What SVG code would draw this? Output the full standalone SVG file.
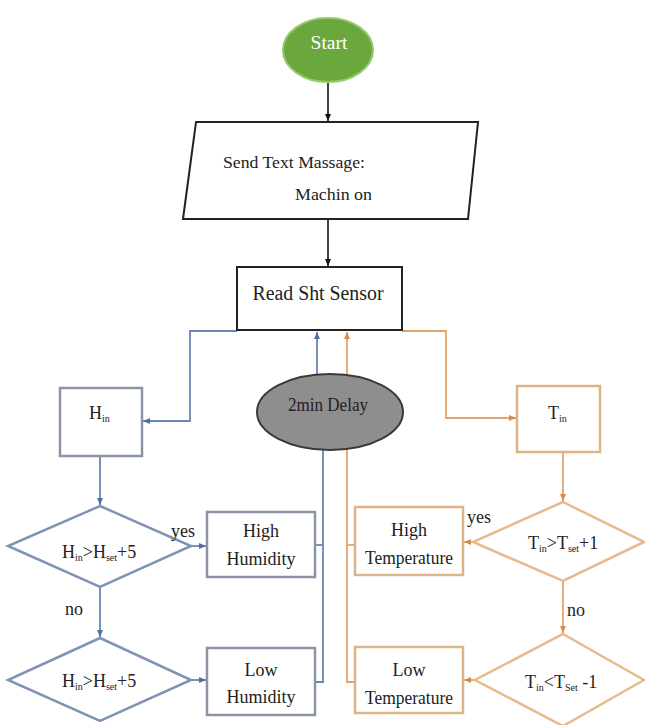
<svg xmlns="http://www.w3.org/2000/svg" width="645" height="725" viewBox="0 0 645 725">
<defs>
<style>
text{font-family:"Liberation Serif","Times New Roman",serif;fill:#222;}
.t18{font-size:18px;}
.t17{font-size:17.5px;}
.sub{font-size:10px;}
.c{text-anchor:middle;}
.blk{fill:none;stroke:#111;stroke-width:1.6;}
.hbox{fill:#fff;stroke:#8a94a4;stroke-width:2.5;}
.tbox{fill:#fff;stroke:#dcb488;stroke-width:2.5;}
.hdia{fill:#fff;stroke:#7f93b5;stroke-width:2.5;}
.tdia{fill:#fff;stroke:#e6ba8c;stroke-width:2.5;}
.bl{fill:none;stroke:#6a86b4;stroke-width:1.8;}
.or{fill:none;stroke:#e4a36a;stroke-width:1.8;}
</style>
<marker id="ak" markerWidth="8" markerHeight="8" refX="7" refY="4" orient="auto" markerUnits="userSpaceOnUse"><path d="M0,1 L7,4 L0,7 z" fill="#111"/></marker>
<marker id="ab" markerWidth="8" markerHeight="8" refX="7" refY="4" orient="auto" markerUnits="userSpaceOnUse"><path d="M0,1 L7,4 L0,7 z" fill="#4f6fa5"/></marker>
<marker id="ao" markerWidth="8" markerHeight="8" refX="7" refY="4" orient="auto" markerUnits="userSpaceOnUse"><path d="M0,1 L7,4 L0,7 z" fill="#d98a4c"/></marker>
</defs>

<g id="connectors">
<line class="blk" x1="328" y1="82" x2="328" y2="121" marker-end="url(#ak)"/>
<line class="blk" x1="328" y1="219" x2="328" y2="266" marker-end="url(#ak)"/>
<polyline class="bl" points="237,331 190,331 190,421 143,421" marker-end="url(#ab)"/>
<line class="bl" x1="100" y1="456" x2="100" y2="505" marker-end="url(#ab)"/>
<line class="bl" x1="191" y1="546" x2="206" y2="546" marker-end="url(#ab)"/>
<line class="bl" x1="100" y1="587" x2="100" y2="637" marker-end="url(#ab)"/>
<line class="bl" x1="191" y1="680" x2="206" y2="680" marker-end="url(#ab)"/>
<polyline class="bl" points="315,545 323,545"/>
<polyline class="bl" points="315,682 323,682 323,440"/>
<line class="bl" x1="317" y1="380" x2="317" y2="332" marker-end="url(#ab)"/>
<polyline class="or" points="402,331 446,331 446,418 516,418" marker-end="url(#ao)"/>
<line class="or" x1="563" y1="452" x2="563" y2="501" marker-end="url(#ao)"/>
<line class="or" x1="473" y1="542" x2="464" y2="542" marker-end="url(#ao)"/>
<line class="or" x1="563" y1="581" x2="563" y2="633" marker-end="url(#ao)"/>
<line class="or" x1="475" y1="680" x2="464" y2="680" marker-end="url(#ao)"/>
<polyline class="or" points="355,545 347,545"/>
<polyline class="or" points="355,682 347,682 347,332" marker-end="url(#ao)"/>
</g>

<g id="start">
<ellipse cx="328" cy="50" rx="45" ry="32" fill="#6aa83e" stroke="#93c86e" stroke-width="2"/>
<text class="t18 c" x="329" y="49" style="fill:#fff" textLength="37" lengthAdjust="spacingAndGlyphs">Start</text>
</g>

<g id="send">
<polygon points="196,122 478,122 468,219 183,219" fill="#fff" stroke="#222" stroke-width="2"/>
<text class="t17" x="223" y="168" textLength="142" lengthAdjust="spacingAndGlyphs">Send Text Massage:</text>
<text class="t17" x="295" y="200" textLength="77" lengthAdjust="spacingAndGlyphs">Machin on</text>
</g>

<g id="read">
<rect x="237" y="267" width="165" height="63" fill="#fff" stroke="#222" stroke-width="2"/>
<text class="c" x="318" y="300" style="font-size:20px" textLength="131" lengthAdjust="spacingAndGlyphs">Read Sht Sensor</text>
</g>

<g id="delay">
<ellipse cx="330" cy="412" rx="73" ry="38" fill="#8e8e8e" stroke="#3a3a3a" stroke-width="2"/>
<text class="t18 c" x="328" y="411" textLength="80" lengthAdjust="spacingAndGlyphs">2min Delay</text>
</g>

<g id="hin">
<rect x="60" y="388" width="82" height="68" class="hbox"/>
<text class="t18" x="89" y="419">H<tspan class="sub" dy="3">in</tspan></text>
</g>

<g id="tin">
<rect x="517" y="386" width="83" height="66" class="tbox"/>
<text class="t18" x="548" y="419">T<tspan class="sub" dy="3">in</tspan></text>
</g>

<g id="hcheck1">
<polygon points="100,506 191,546 100,587 8,546" class="hdia"/>
<text class="t18" x="62" y="558">H<tspan class="sub" dy="3">in</tspan><tspan dy="-3">&gt;H</tspan><tspan class="sub" dy="3">set</tspan><tspan dy="-3">+5</tspan></text>
</g>

<g id="hcheck2">
<polygon points="100,638 191,680 100,721 8,680" class="hdia"/>
<text class="t18" x="62" y="687">H<tspan class="sub" dy="3">in</tspan><tspan dy="-3">&gt;H</tspan><tspan class="sub" dy="3">set</tspan><tspan dy="-3">+5</tspan></text>
</g>

<g id="highhum">
<rect x="207" y="512" width="108" height="65" class="hbox"/>
<text class="t18 c" x="261" y="537">High</text>
<text class="t18 c" x="261" y="565">Humidity</text>
</g>

<g id="lowhum">
<rect x="207" y="648" width="108" height="67" class="hbox"/>
<text class="t18 c" x="261" y="676">Low</text>
<text class="t18 c" x="261" y="703">Humidity</text>
</g>

<g id="tcheck1">
<polygon points="563,502 644,542 563,581 473,542" class="tdia"/>
<text class="t18" x="528" y="549">T<tspan class="sub" dy="3">in</tspan><tspan dy="-3">&gt;T</tspan><tspan class="sub" dy="3">set</tspan><tspan dy="-3">+1</tspan></text>
</g>

<g id="tcheck2">
<polygon points="563,634 644,680 563,726 475,680" class="tdia"/>
<text class="t18" x="525" y="688">T<tspan class="sub" dy="3">in</tspan><tspan dy="-3">&lt;T</tspan><tspan class="sub" dy="3">Set</tspan><tspan dy="-3"> -1</tspan></text>
</g>

<g id="hightemp">
<rect x="355" y="507" width="108" height="68" class="tbox"/>
<text class="t18 c" x="409" y="536">High</text>
<text class="t18 c" x="409" y="564" textLength="88" lengthAdjust="spacingAndGlyphs">Temperature</text>
</g>

<g id="lowtemp">
<rect x="355" y="647" width="108" height="66" class="tbox"/>
<text class="t18 c" x="409" y="676">Low</text>
<text class="t18 c" x="409" y="704" textLength="88" lengthAdjust="spacingAndGlyphs">Temperature</text>
</g>

<g id="labels">
<text class="t18" x="171" y="537">yes</text>
<text class="t18" x="65" y="615">no</text>
<text class="t18" x="467" y="523">yes</text>
<text class="t18" x="567" y="616">no</text>
</g>
</svg>
